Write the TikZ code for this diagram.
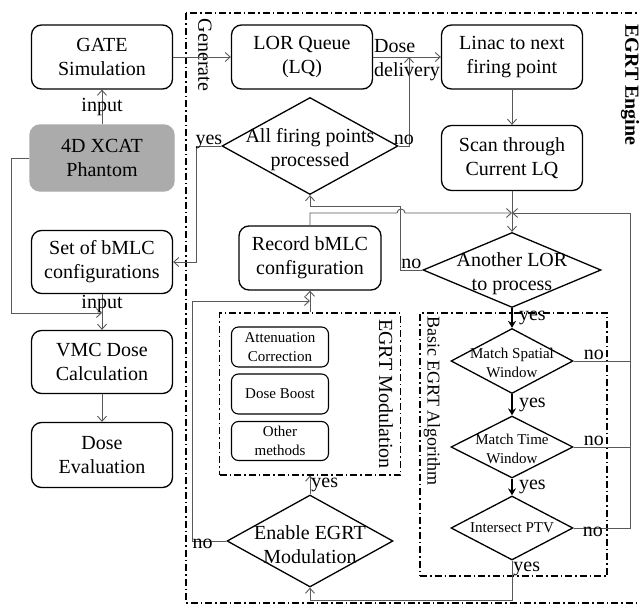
\documentclass[tikz,border=0pt]{standalone}
\usepackage{fontspec}
\setmainfont{Liberation Serif}
\usetikzlibrary{positioning}
\usetikzlibrary{shapes.geometric, arrows.meta}

\begin{document}
\begin{tikzpicture}[x=1pt, y=-1pt, thick,
  >={Straight Barb[length=5pt, width=9pt]},
  txt/.style = {font=\fontsize{20}{24}\selectfont},
  small/.style = {font=\fontsize{15}{19}\selectfont},
  box/.style = {draw, line width=1.3pt, rounded corners=10pt, minimum width=141pt, minimum height=64pt, align=center, txt},
  sbox/.style = {draw, line width=1.1pt, rounded corners=7pt, minimum width=97pt, minimum height=40pt, align=center, small},
  decision/.style = {draw, diamond, line width=1.3pt, inner sep=0pt},
  lbl/.style = {txt, inner sep=1pt},
  conn/.style = {draw=black!65, line width=0.9pt},
  flow/.style = {draw=black, line width=2.2pt, -{Stealth[length=7pt, width=8pt]}},
  dashbox/.style = {draw, line width=1.2pt, dash pattern=on 7pt off 3pt on 1.5pt off 3pt}]
\useasboundingbox (0,0) rectangle (640,605);

% left column
\node[box] (gate) at (102,57) {GATE\\Simulation};
\node[box, fill=black!33, draw=black!33, minimum width=144pt, minimum height=66pt] (xcat) at (102,158) {4D XCAT\\Phantom};
\node[box, minimum height=63pt] (bmlc) at (102,262) {Set of bMLC\\configurations};
\node[box, minimum height=63pt] (vmc) at (102,362) {VMC Dose\\Calculation};
\node[box, minimum height=65pt] (evalbox) at (102,455) {Dose\\Evaluation};

% engine
\draw[dashbox] (186,13) rectangle (660,603);
\node[lbl, rotate=-90] (gen) at (205,55) {Generate};
\node[lbl, rotate=-90, font=\fontsize{20}{24}\selectfont\bfseries] (engine) at (630,85) {EGRT Engine};

\node[box] (lq) at (302,57) {LOR Queue\\(LQ)};
\node[box] (linac) at (512,57) {Linac to next\\firing point};
\node[box, minimum height=65pt] (scan) at (512,158) {Scan through\\Current LQ};
\node[box, minimum width=142pt] (record) at (310,258) {Record bMLC\\configuration};

\node[decision, minimum width=176pt, minimum height=97pt,
  label={[lbl, align=center, yshift=-4pt]center:All firing points\\processed}] (fire) at (310,146) {};
\node[decision, minimum width=178pt, minimum height=75pt,
  label={[lbl, align=center, yshift=-4pt]center:Another LOR\\to process}] (another) at (512,270) {};
\node[decision, minimum width=166pt, minimum height=92pt,
  label={[lbl, align=center, yshift=-4pt]center:Enable EGRT\\Modulation}] (enable) at (310,541) {};

% EGRT modulation
\node[dashbox, minimum width=181pt, minimum height=162pt] (modbox) at (310,394) {};
\node[lbl, rotate=-90] (modlbl) at (386,394) {EGRT Modulation};
\node[sbox] (atten) at (280,347) {Attenuation\\Correction};
\node[sbox] (boost) at (280,394) {Dose Boost};
\node[sbox, minimum height=39pt] (other) at (280,441) {Other\\methods};

% basic EGRT algorithm
\node[dashbox, minimum width=187pt, minimum height=263pt] (basicbox) at (513.5,444.5) {};
\node[lbl, rotate=-90, font=\fontsize{18}{22}\selectfont] (basiclbl) at (432,401) {Basic EGRT Algorithm};
\node[decision, minimum width=122pt, minimum height=65pt,
  label={[small, align=center, yshift=-2pt]center:Match Spatial\\Window}] (spatial) at (512,361) {};
\node[decision, minimum width=122pt, minimum height=62pt,
  label={[small, align=center, yshift=-2pt]center:Match Time\\Window}] (time) at (512,447) {};
\node[decision, minimum width=122pt, minimum height=64pt,
  label={[small, align=center]center:Intersect PTV}] (ptv) at (512,528) {};

\coordinate (dosept) at (409,57);
\coordinate (inputpt) at (102,313);
\coordinate (join) at (512,213);
\coordinate (rtop) at (630,213);
\coordinate (hop) at (401,213);
\coordinate (recin) at (310,301);

\draw[conn, ->] (gate) -- (lq);
\draw[conn, ->] (lq) -- node[lbl, align=left, yshift=-3pt] {Dose\\delivery} (linac);
\draw[conn, ->] (fire.east) -| node[lbl, above, pos=0.25] {no} (dosept);
\draw[conn, ->] (fire.west) -- node[lbl, above, yshift=-4pt] {yes} ++(-25,0) |- (bmlc.east);
\draw[conn, ->] (xcat) -- node[lbl] {input} (gate);
\draw[conn, ->] (xcat.west) -- ++(-18,0) |- (inputpt);
\draw[conn, ->] (bmlc) -- node[lbl, pos=0.27] {input} (vmc);
\draw[conn, ->] (vmc) -- (evalbox);
\draw[conn, ->] (linac) -- (scan);
\draw[conn, ->] (scan) -- (another);
\draw[conn, ->] (another.west) -- node[lbl, above] {no} ++(-22,0) |- ([yshift=-11pt]fire.south) -- (fire.south);
\draw[conn, ->] (record.north) |- ([xshift=-4pt]hop) arc[start angle=180, end angle=360, radius=4] -- (join);

% back to the LOR loop
\draw[conn] (spatial.east) -- node[lbl, above, pos=0.36] {no} (spatial.east -| rtop);
\draw[conn] (time.east) -- node[lbl, above, pos=0.36] {no} (time.east -| rtop);
\draw[conn, ->] (ptv.east) -| node[lbl, below, pos=0.17, yshift=2pt] {no} (rtop) -- (join);

\draw[flow] (another) -- node[lbl, right=5pt] {yes} (spatial);
\draw[flow] (spatial) -- node[lbl, right=5pt] {yes} (time);
\draw[flow] (time) -- node[lbl, right=5pt] {yes} (ptv);

\draw[conn, ->] (ptv.south) -- node[lbl, right, pos=0.2] {yes} ++(0,40) -| (enable.south);
\draw[conn, ->] (enable) -- node[lbl, right] {yes} (modbox);
\draw[conn, ->] (modbox) -- (record);
\draw[conn, ->] (enable.west) -- node[lbl, below, pos=0.7, yshift=3pt] {no} ++(-34,0) |- (recin);
\end{tikzpicture}
\end{document}
